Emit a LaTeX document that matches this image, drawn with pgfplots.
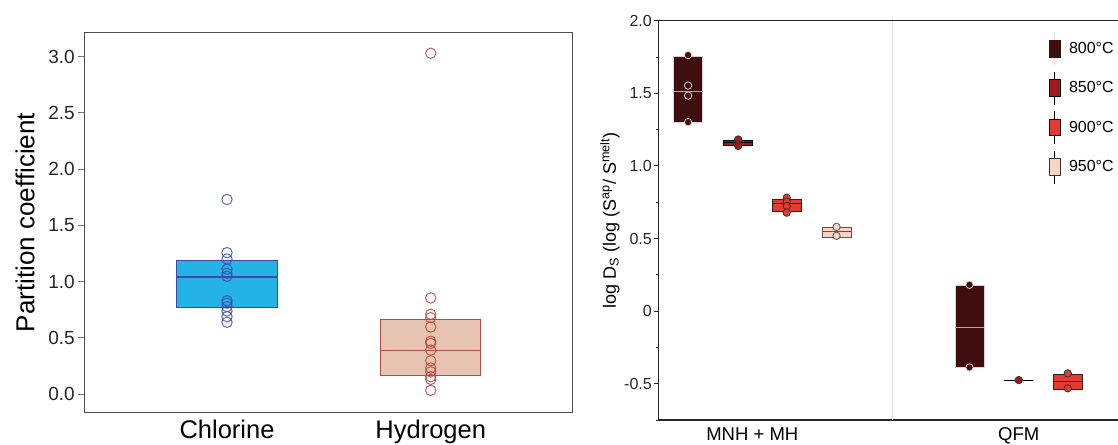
\documentclass[border=0pt]{standalone}
\usepackage{fontspec}
\setmainfont{Liberation Sans}
\usepackage{pgfplots}
\pgfplotsset{compat=1.18}
\usepgfplotslibrary{statistics}
\definecolor{clbox}{HTML}{25B2E5}
\definecolor{cledge}{HTML}{3A4AA5}
\definecolor{clpt}{HTML}{3C4BA8}
\definecolor{hbox}{HTML}{E7C3B2}
\definecolor{hedge}{HTML}{B54B43}
\definecolor{hpt}{HTML}{B5453F}
\definecolor{c800}{HTML}{3F0F10}
\definecolor{c800e}{HTML}{E2CFCF}
\definecolor{c800m}{HTML}{C4A2A2}
\definecolor{c850}{HTML}{9B1B1F}
\definecolor{c900}{HTML}{E53A30}
\definecolor{c950}{HTML}{F9D3C3}
\definecolor{c950e}{HTML}{555555}
\begin{document}
\begin{tikzpicture}
\useasboundingbox (0,0) rectangle (1118pt,444pt);
\clip (0,0) rectangle (1118pt,444pt);
% ---------------- left panel ----------------
\begin{axis}[
  at={(84.3pt,32pt)}, anchor=south west, scale only axis,
  width=488pt, height=379pt,
  xmin=0.2995, xmax=2.695, ymin=-0.16, ymax=3.21,
  boxplot/draw direction=y,
  xtick={1,2}, xticklabels={Chlorine,Hydrogen},
  ytick={0,0.5,1,1.5,2,2.5,3},
  ytick pos=left, xtick pos=bottom,
  /pgf/number format/assume math mode=true,
  yticklabel style={/pgf/number format/fixed, /pgf/number format/fixed zerofill, /pgf/number format/precision=1},
  tick align=outside, major tick length=6pt,
  xtick style={draw=none},
  ytick style={color=black!55, line width=0.8pt},
  axis line style={color=black!70, line width=1pt},
  tick label style={font=\fontsize{19}{22}\selectfont, color=black!85},
  xticklabel style={font=\fontsize{25.5}{30}\selectfont, color=black, yshift=2pt},
  ylabel={Partition coefficient},
  every axis y label/.style={at={(axis description cs:-0.1215,0.5)}, rotate=90, anchor=center, font=\fontsize{26}{31}\selectfont},
]
\addplot[boxplot prepared={draw position=1, lower whisker=0.77, lower quartile=0.77, median=1.04, upper quartile=1.19, upper whisker=1.19, box extend=0.492}, fill=clbox, draw=cledge, line width=1.2pt] coordinates {};
\addplot[boxplot prepared={draw position=2, lower whisker=0.166, lower quartile=0.166, median=0.39, upper quartile=0.665, upper whisker=0.665, box extend=0.492}, fill=hbox, draw=hedge, line width=1.2pt] coordinates {};
\addplot[only marks, mark=o, mark size=5.2pt, mark options={draw=clpt, line width=1pt, draw opacity=0.85}] coordinates {
(1,1.73) (1,1.257) (1,1.20) (1,1.11) (1,1.074) (1,1.047) (1,0.83) (1,0.807) (1,0.777) (1,0.738) (1,0.688) (1,0.638)};
\addplot[only marks, mark=o, mark size=5.2pt, mark options={draw=hpt, line width=1pt, draw opacity=0.85}] coordinates {
(2,3.03) (2,0.854) (2,0.709) (2,0.679) (2,0.596) (2,0.469) (2,0.45) (2,0.39) (2,0.296) (2,0.231) (2,0.198) (2,0.154) (2,0.13) (2,0.033)};
\end{axis}
% ---------------- right panel ----------------
\begin{axis}[
  at={(658.8pt,24pt)}, anchor=south west, scale only axis,
  width=470pt, height=399.3pt,
  xmin=0.649, xmax=2.413, ymin=-0.75, ymax=2.0,
  boxplot/draw direction=y,
  axis x line=box, axis y line=left, axis line style={-, color=black!85, line width=1.1pt},
  xtick={1,2}, xticklabels={MNH + MH,QFM},
  ytick={-0.5,0,0.5,1,1.5,2}, yticklabels={-0.5,0,0.5,1.0,1.5,2.0},
  minor ytick={-0.75,-0.25,0.25,0.75,1.25,1.75},
  tick align=outside, major tick length=5pt, minor tick length=3pt,
  xtick style={draw=none},
  ytick style={color=black!85, line width=0.8pt},
  tick label style={font=\fontsize{16}{19}\selectfont, color=black!85},
  yticklabel style={xshift=1.5pt},
  xticklabel style={font=\fontsize{18.5}{22}\selectfont, color=black, yshift=1pt},
  ylabel={log D\textsubscript{S} (log (S\textsuperscript{ap}/ S\textsuperscript{melt})},
  every axis y label/.style={at={(axis description cs:-0.104,0.5)}, rotate=90, anchor=center, font=\fontsize{18}{21}\selectfont},
  legend style={at={(rel axis cs:0.8296,0.9517)}, anchor=north west, draw=none, fill=none, inner sep=0pt, row sep=21.8pt, column sep=8.4pt, nodes={inner sep=0pt}, font=\fontsize{16}{19}\selectfont},
  legend cell align=left,
]
\addplot[forget plot, color=black!12, line width=1.2pt] coordinates {(1.526,-0.75) (1.526,2.0)};
% MNH + MH
\addplot[forget plot, boxplot prepared={draw position=0.759, lower whisker=1.297, lower quartile=1.297, median=1.514, upper quartile=1.751, upper whisker=1.751, box extend=0.109, every median/.style={draw=c800m, line width=1pt}}, fill=c800, draw=c800e, line width=0.8pt] coordinates {};
\addplot[forget plot, boxplot prepared={draw position=0.947, lower whisker=1.140, lower quartile=1.140, median=1.160, upper quartile=1.178, upper whisker=1.178, box extend=0.109}, fill=c850, draw=black, line width=1pt] coordinates {};
\addplot[forget plot, boxplot prepared={draw position=1.129, lower whisker=0.685, lower quartile=0.685, median=0.738, upper quartile=0.770, upper whisker=0.770, box extend=0.109}, fill=c900, draw=black!85, line width=1pt] coordinates {};
\addplot[forget plot, boxplot prepared={draw position=1.316, lower whisker=0.510, lower quartile=0.510, median=0.546, upper quartile=0.578, upper whisker=0.578, box extend=0.109}, fill=c950, draw=c950e, line width=1pt] coordinates {};
% QFM
\addplot[forget plot, boxplot prepared={draw position=1.815, lower whisker=-0.390, lower quartile=-0.390, median=-0.110, upper quartile=0.176, upper whisker=0.176, box extend=0.109, every median/.style={draw=c800m, line width=1pt}}, fill=c800, draw=c800e, line width=0.8pt] coordinates {};
\addplot[forget plot, boxplot prepared={draw position=2.0, lower whisker=-0.475, lower quartile=-0.475, median=-0.475, upper quartile=-0.475, upper whisker=-0.475, box extend=0.109}, fill=c850, draw=black, line width=1pt] coordinates {};
\addplot[forget plot, boxplot prepared={draw position=2.184, lower whisker=-0.538, lower quartile=-0.538, median=-0.486, upper quartile=-0.436, upper whisker=-0.436, box extend=0.109}, fill=c900, draw=black!85, line width=1pt] coordinates {};
% points
\addplot[forget plot, only marks, mark=*, mark size=3.7pt, mark options={fill=c800, draw=c800e, line width=0.8pt}] coordinates {
(0.759,1.763) (0.759,1.553) (0.759,1.484) (0.759,1.301) (1.815,0.181) (1.815,-0.388)};
\addplot[forget plot, only marks, mark=*, mark size=3.7pt, mark options={fill=c850, draw=black!80, line width=0.8pt}] coordinates {
(0.947,1.182) (0.947,1.137) (2.0,-0.475)};
\addplot[forget plot, only marks, mark=*, mark size=3.7pt, mark options={fill=c900, draw=black!80, line width=0.8pt}] coordinates {
(1.129,0.781) (1.129,0.753) (1.129,0.724) (1.129,0.678) (2.184,-0.429) (2.184,-0.532)};
\addplot[forget plot, only marks, mark=*, mark size=3.7pt, mark options={fill=c950, draw=c950e, line width=0.8pt}] coordinates {
(1.316,0.580) (1.316,0.518)};
% legend
\addlegendimage{legend image code/.code={
  \draw[overlay, draw=black!12, line width=0.8pt] (5.35pt,-16.5pt) -- (5.35pt,16.5pt);
  \draw[fill=c800, draw=c800, line width=0.6pt] (0pt,-8.35pt) rectangle (10.7pt,8.35pt);}}
\addlegendentry{800°C}
\addlegendimage{legend image code/.code={
  \draw[overlay, draw=black, line width=1pt] (5.35pt,-16.5pt) -- (5.35pt,16.5pt);
  \draw[fill=c850, draw=black, line width=1pt] (0pt,-8.35pt) rectangle (10.7pt,8.35pt);}}
\addlegendentry{850°C}
\addlegendimage{legend image code/.code={
  \draw[overlay, draw=black, line width=1pt] (5.35pt,-16.5pt) -- (5.35pt,16.5pt);
  \draw[fill=c900, draw=black, line width=1pt] (0pt,-8.35pt) rectangle (10.7pt,8.35pt);}}
\addlegendentry{900°C}
\addlegendimage{legend image code/.code={
  \draw[overlay, draw=black, line width=1pt] (5.35pt,-16.5pt) -- (5.35pt,16.5pt);
  \draw[fill=c950, draw=black!80, line width=1pt] (0pt,-8.35pt) rectangle (10.7pt,8.35pt);}}
\addlegendentry{950°C}
\end{axis}
\end{tikzpicture}
\end{document}
